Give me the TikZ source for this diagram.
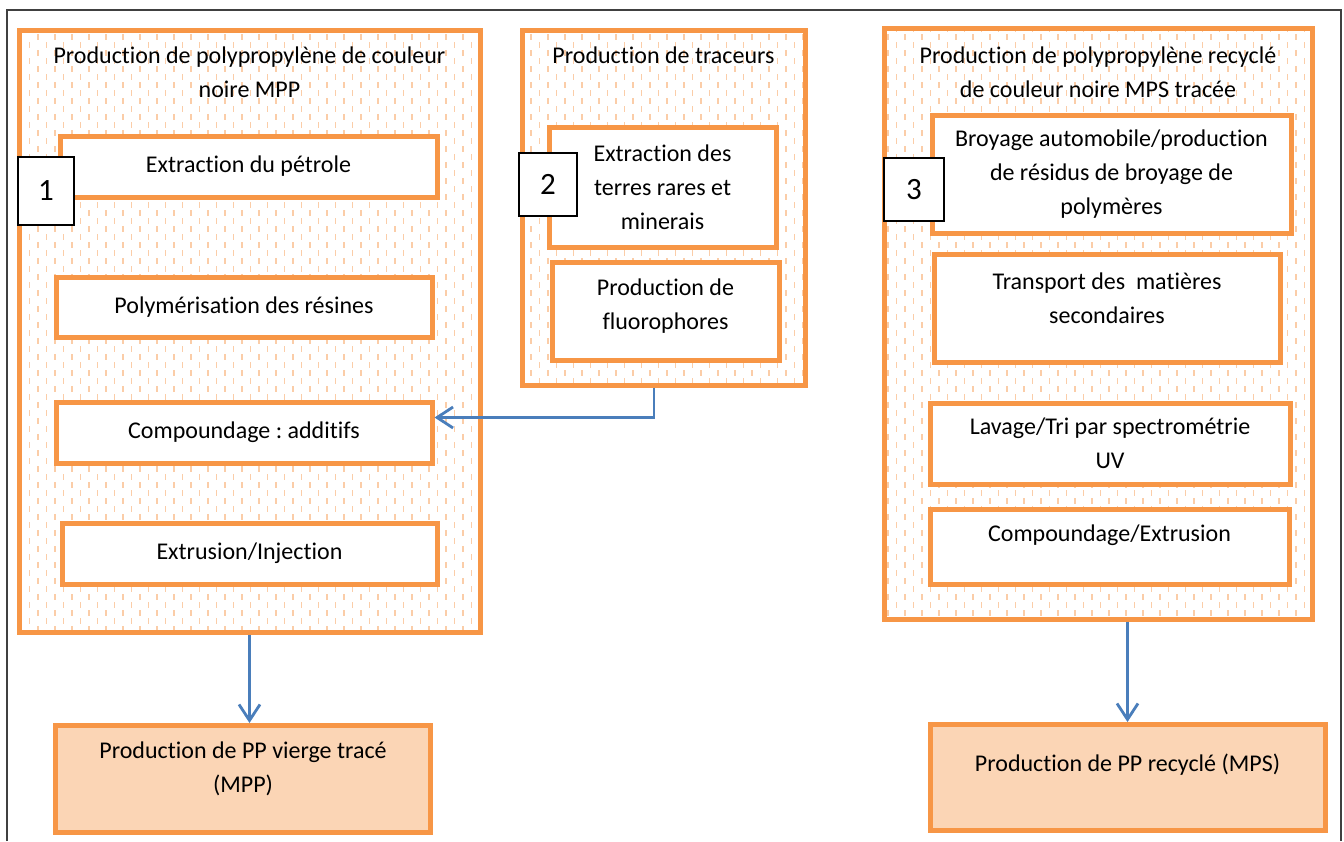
\documentclass[tikz,border=0pt]{standalone}
\usepackage{fontspec}
\setmainfont{Carlito}[Ligatures=NoCommon]
\usepackage{tikz}
\usetikzlibrary{positioning,arrows.meta,calc,patterns}
\frenchspacing
\definecolor{porng}{HTML}{F79646}
\definecolor{ppale}{HTML}{FBD5B5}
\definecolor{pdash}{HTML}{FBCDA8}
\definecolor{pblue}{HTML}{4A7EBB}
\definecolor{pfram}{HTML}{404040}
\pgfdeclarepatternformonly{vdashes}{\pgfqpoint{-1pt}{-1pt}}{\pgfqpoint{18pt}{17pt}}{\pgfqpoint{17pt}{16pt}}{%
  \pgfsetlinewidth{1.6pt}%
  \pgfpathmoveto{\pgfqpoint{4pt}{1pt}}\pgfpathlineto{\pgfqpoint{4pt}{7pt}}%
  \pgfpathmoveto{\pgfqpoint{12.5pt}{9pt}}\pgfpathlineto{\pgfqpoint{12.5pt}{15pt}}%
  \pgfusepath{stroke}}
\newcommand{\bodyfont}{\fontsize{24}{34}\selectfont\frenchspacing}
\newcommand{\numfont}{\fontsize{31}{34}\selectfont}
\tikzset{
  frame/.style  ={draw=pfram, line width=1.5pt},
  grp/.style    ={draw=porng, line width=5pt, preaction={fill=white},
                  pattern=vdashes, pattern color=pdash},
  ttl/.style    ={align=center, font=\bodyfont, inner sep=3pt},
  stepbox/.style={draw=porng, line width=5pt, fill=white, align=center, font=\bodyfont},
  outbox/.style ={stepbox, fill=ppale},
  numbox/.style ={draw=black, line width=1.2pt, fill=white, font=\numfont},
  liftby/.style ={text depth=#1},
  link/.style   ={-{Straight Barb[length=16pt,width=21pt]}, line width=2.8pt, draw=pblue},
}
\begin{document}
\begin{tikzpicture}[x=1pt,y=-1pt]
  \useasboundingbox (0,0) rectangle (1344,841);
  \draw[frame] (7,841) -- (7,10) -- (1341,10) -- (1341,841);

  % the three groups
  \node[grp, minimum width=461pt, minimum height=602pt] (g1) at (249.5,331) {};
  \node[grp, minimum width=283pt, minimum height=355pt] (g2) at (663.5,207.5) {};
  \node[grp, minimum width=428pt, minimum height=591pt] (g3) at (1098,323.5) {};
  \node[ttl, below=16pt of g1.north] (t1) {Production de polypropylène de couleur\\noire MPP};
  \node[ttl, below=16pt of g2.north] (t2) {Production de traceurs};
  \node[ttl, below=18pt of g3.north] (t3) {Production de polypropylène recyclé\\de couleur noire MPS tracée};

  % steps
  \node[stepbox, minimum width=377pt, minimum height=61pt] (ext) at (248.5,166.5) {Extraction du pétrole};
  \node[stepbox, minimum width=376pt, minimum height=60pt] (pol) at (244,307) {Polymérisation des résines};
  \node[stepbox, minimum width=376pt, minimum height=61pt] (cmp) at (244,432.5) {Compoundage : additifs};
  \node[stepbox, minimum width=375pt, minimum height=61pt] (exi) at (249.5,553.5) {Extrusion/Injection};
  \node[stepbox, minimum width=227pt, minimum height=120pt] (terr) at (662.5,187) {Extraction des\\terres rares et\\minerais};
  \node[stepbox, liftby=14pt, minimum width=227pt, minimum height=98pt] (fluo) at (665.5,311) {Production de\\fluorophores};
  \node[stepbox, minimum width=359pt, minimum height=118pt] (broy) at (1111.5,174) {Broyage automobile/production\\de résidus de broyage de\\polymères};
  \node[stepbox, liftby=19pt, minimum width=346pt, minimum height=108pt] (trsp) at (1107,308) {Transport des~~matières\\secondaires};
  \node[stepbox, minimum width=360pt, minimum height=81pt] (lav) at (1110,443.5) {Lavage/Tri par spectrométrie\\UV};
  \node[stepbox, liftby=26pt, minimum width=359pt, minimum height=75pt] (cpx) at (1109.5,546.5) {Compoundage/Extrusion};

  % numbers
  \node[numbox, minimum width=56pt, minimum height=68pt] (n1) at (46,191) {1};
  \node[numbox, minimum width=58pt, minimum height=63pt] (n2) at (548,184.5) {2};
  \node[numbox, minimum width=60pt, minimum height=63pt] (n3) at (914,189.5) {3};

  % outputs
  \node[outbox, liftby=23pt, minimum width=375pt, minimum height=107pt] (mpp) at (243,779) {Production de PP vierge tracé\\(MPP)};
  \node[outbox, liftby=29pt, minimum width=395pt, minimum height=106pt] (mps) at (1127.5,777.5) {Production de PP recyclé (MPS)};

  \draw[link] (g1.south) -- (g1.south |- mpp.north);
  \draw[link] (mps.north |- g3.south) -- (mps.north);
  \draw[link] ([xshift=-9.5pt]g2.south) |- ([yshift=15pt]cmp.east);
\end{tikzpicture}
\end{document}
